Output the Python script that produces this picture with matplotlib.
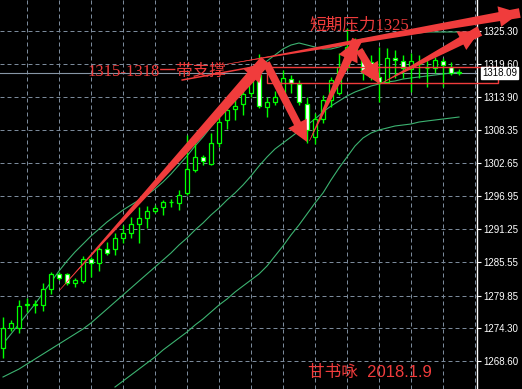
import matplotlib
matplotlib.use('Agg')
import matplotlib.pyplot as plt
from matplotlib.patches import Rectangle

# candle data
opens = [1270.83, 1274.27, 1274.27, 1278.22, 1278.22, 1278.22, 1280.97, 1283.55, 1283.55, 1282.00,
         1282.34, 1286.13, 1285.44, 1287.84, 1287.84, 1289.73, 1290.59, 1292.14, 1293.17, 1294.37,
         1295.06, 1295.92, 1295.75, 1297.46, 1301.42, 1303.65, 1302.44, 1306.05, 1310.01, 1311.90,
         1312.76, 1314.65, 1317.74, 1312.24, 1313.10, 1313.96, 1317.05, 1316.19, 1312.76, 1307.09,
         1310.18, 1313.44, 1314.65, 1319.11, 1321.52, 1321.18, 1319.97, 1317.40, 1316.54, 1320.66,
         1320.14, 1318.77, 1319.97, 1318.94, 1318.94, 1320.14, 1319.11, 1318.26]
highs = [1276.16, 1275.64, 1279.08, 1279.42, 1279.08, 1282.00, 1283.89, 1283.89, 1283.72, 1282.86,
         1286.64, 1286.47, 1288.19, 1289.04, 1290.59, 1291.97, 1293.34, 1295.06, 1295.23, 1295.40,
         1296.26, 1296.43, 1297.98, 1307.43, 1307.60, 1303.99, 1307.77, 1310.52, 1313.10, 1313.79,
         1315.68, 1318.94, 1321.35, 1313.96, 1314.99, 1318.60, 1317.74, 1316.88, 1313.96, 1311.21,
         1314.30, 1317.40, 1321.52, 1325.82, 1324.10, 1322.04, 1321.18, 1322.55, 1322.38, 1322.04,
         1321.18, 1321.52, 1321.18, 1320.83, 1320.83, 1320.66, 1319.97, 1318.77]
lows = [1269.11, 1273.76, 1273.41, 1277.02, 1276.84, 1277.19, 1280.11, 1282.52, 1281.66, 1281.31,
        1282.00, 1283.03, 1284.06, 1286.81, 1286.81, 1288.87, 1289.73, 1288.87, 1291.45, 1294.03,
        1293.68, 1295.06, 1294.54, 1297.13, 1301.08, 1302.27, 1302.27, 1305.37, 1308.46, 1310.01,
        1310.87, 1313.96, 1312.07, 1310.52, 1312.58, 1313.10, 1314.65, 1312.58, 1306.05, 1305.88,
        1309.49, 1312.24, 1314.30, 1318.60, 1320.66, 1316.88, 1316.88, 1313.10, 1316.37, 1317.23,
        1317.23, 1314.82, 1317.23, 1315.68, 1318.08, 1315.68, 1317.74, 1317.74]
closes = [1274.27, 1275.13, 1278.05, 1278.39, 1278.39, 1280.97, 1283.55, 1282.86, 1282.00, 1282.52,
          1286.13, 1285.44, 1287.84, 1287.16, 1289.73, 1290.59, 1292.14, 1293.17, 1294.37, 1294.89,
          1295.92, 1295.95, 1297.13, 1301.59, 1303.65, 1302.96, 1306.05, 1309.66, 1311.73, 1312.41,
          1314.48, 1317.74, 1312.41, 1313.10, 1313.96, 1317.23, 1316.37, 1313.10, 1308.29, 1310.18,
          1313.44, 1316.88, 1319.11, 1322.55, 1323.41, 1318.26, 1317.40, 1316.54, 1320.66, 1320.32,
          1318.94, 1320.14, 1319.63, 1318.90, 1320.32, 1319.46, 1318.08, 1318.09]

# bollinger bands
bb_upper = [1271.52, 1273.24, 1274.96, 1276.67, 1278.39, 1280.28, 1282.17, 1284.06, 1285.78, 1287.33,
            1288.70, 1290.08, 1291.28, 1292.48, 1293.51, 1294.54, 1295.40, 1296.26, 1297.12, 1298.15,
            1299.36, 1300.73, 1302.28, 1303.82, 1305.54, 1307.09, 1308.81, 1310.52, 1312.24, 1313.96,
            1315.51, 1317.22, 1318.94, 1320.15, 1321.18, 1322.21, 1322.89, 1323.24, 1322.89, 1322.55,
            1322.21, 1322.21, 1322.55, 1323.07, 1323.58, 1323.93, 1324.10, 1324.27, 1324.44, 1324.61,
            1324.78, 1324.96, 1324.96, 1325.13, 1325.13, 1325.13, 1325.13, 1325.13]
bb_mid = [1265.85, 1266.54, 1267.22, 1268.08, 1268.94, 1269.80, 1270.66, 1271.52, 1272.38, 1273.24,
          1274.10, 1275.13, 1276.33, 1277.53, 1278.74, 1279.94, 1281.14, 1282.35, 1283.55, 1284.75,
          1285.95, 1287.16, 1288.53, 1289.73, 1291.11, 1292.31, 1293.69, 1294.89, 1296.26, 1297.47,
          1298.84, 1300.39, 1302.10, 1303.65, 1305.03, 1306.06, 1307.09, 1308.12, 1309.15, 1310.18,
          1311.38, 1312.41, 1313.27, 1314.13, 1314.82, 1315.33, 1315.85, 1316.19, 1316.54, 1316.71,
          1317.05, 1317.23, 1317.40, 1317.57, 1317.74, 1317.91, 1318.08, 1318.26]
lower_start = 14
bb_lower = [1264.13, 1265.16, 1266.19, 1267.22, 1268.26, 1269.29, 1270.49, 1271.52, 1272.55, 1273.58,
            1274.78, 1275.82, 1277.02, 1278.22, 1279.25, 1280.45, 1281.49, 1282.52, 1283.55, 1284.92,
            1286.64, 1288.36, 1290.25, 1291.97, 1293.86, 1295.75, 1297.47, 1299.70, 1301.76, 1303.65,
            1305.54, 1306.92, 1307.77, 1308.29, 1308.63, 1308.98, 1309.15, 1309.32, 1309.66, 1309.84,
            1310.01, 1310.18, 1310.35, 1310.52]

price_ticks = [1325.30, 1319.60, 1313.90, 1308.35, 1302.65, 1296.95, 1291.25, 1285.55, 1279.85, 1274.30, 1268.60]
last_price = 1318.09
support_box = (1316.37, 1319.11)

RED = '#f03c3c'
GREEN = '#00ff00'
BAND = '#3cb371'
GRID = '#7b8a9b'

fig = plt.figure(figsize=(5.22, 3.89), dpi=100, facecolor='black')
ax = fig.add_axes([0, 0, 477 / 522, 1])
ax.set_facecolor('black')

n = len(closes)
xs = list(range(n))

# grid
for p in price_ticks:
    ax.axhline(p, color=GRID, lw=0.72, ls=(0, (4, 3)), zorder=0)
for gx in range(3, 60, 4):
    ax.axvline(gx, color=GRID, lw=0.72, ls=(0, (4, 3)), zorder=0)

# current price line
ax.axhline(last_price, color='#8796a6', lw=0.8, zorder=0.5)

# bands
ax.plot(xs, bb_upper, color=BAND, lw=0.8, zorder=1)
ax.plot(xs, bb_mid, color=BAND, lw=0.8, zorder=1)
ax.plot(xs[lower_start:], bb_lower, color=BAND, lw=0.8, zorder=1)

# candles
ax.vlines(xs, lows, highs, color=GREEN, lw=1, zorder=2)
for i in range(n):
    o, c = opens[i], closes[i]
    fill = 'black' if c >= o else 'white'
    ax.bar(i, abs(c - o), bottom=min(o, c), width=0.55, color=fill,
           edgecolor=GREEN, linewidth=0.9, zorder=3)

ax.set_xlim(-0.375, 59.25)
ax.set_ylim(1263.79, 1330.626)

# axis styling
for s in ['left', 'top', 'bottom']:
    ax.spines[s].set_visible(False)
ax.spines['right'].set_color('white')
ax.spines['right'].set_linewidth(1)
ax.set_xticks([])
ax.yaxis.tick_right()
ax.set_yticks(price_ticks)
ax.set_yticklabels(['%.2f' % p for p in price_ticks])
ax.tick_params(axis='y', colors='white', length=3, width=0.8, pad=1.5,
               labelsize=7, labelfontfamily='Liberation Sans')

ax.annotate('%.2f' % last_price, xy=(1, last_price), xycoords=('axes fraction', 'data'),
            xytext=(3.5, 0), textcoords='offset points', ha='left', va='center',
            fontsize=7, family='Liberation Sans', color='black', zorder=6,
            bbox=dict(boxstyle='square,pad=0.08', fc='white', ec='white'),
            annotation_clip=False)

# support box
rect = Rectangle((33.0, support_box[0]), 28.9, support_box[1] - support_box[0],
                 fill=False, ec=RED, lw=1, zorder=4, clip_on=False)
ax.add_patch(rect)


# arrows
def draw(start, end, style):
    a = ax.annotate('', xy=end, xytext=start,
                    arrowprops=dict(arrowstyle=style, color=RED, lw=0,
                                    shrinkA=0, shrinkB=0, mutation_scale=10),
                    annotation_clip=False, zorder=5)
    a.arrow_patch.set_clip_on(False)


def tapered(start, end, width=0.8):
    # wedge thin at start, thick at end, plus arrow head
    draw(end, start, 'wedge,tail_width=%s,shrink_factor=0.5' % width)
    draw(start, end, 'simple,head_length=1.5,head_width=1.5,tail_width=0.05')


def straight(start, end):
    draw(start, end, 'simple,head_length=1.5,head_width=1.5,tail_width=0.55')


tapered((7.1, 1280.80), (32.8, 1320.2), 0.85)
ax.plot([22.4, 31.9], [1316.88, 1319.28], color=RED, lw=1.1, zorder=5)
tapered((28.0, 1319.6), (64.6, 1328.39), 0.7)
straight((32.9, 1319.8), (38.0, 1306.23))
tapered((38.3, 1306.4), (44.25, 1323.75), 0.75)
straight((44.5, 1322.04), (47.1, 1316.19))
tapered((47.1, 1316.19), (59.6, 1325.30), 0.75)

# texts
ax.text(10.6, 1318.26, '1315-1318一带支撑', color=RED, fontsize=12, ha='left', va='center',
        family=['Liberation Serif', 'Noto Sans CJK SC'], zorder=6)
ax.text(38.25, 1326.33, '短期压力1325', color=RED, fontsize=12, ha='left', va='center',
        family=['Liberation Serif', 'Noto Sans CJK SC'], zorder=6)
ax.text(38.1, 1266.54, '甘书咏  2018.1.9', color=RED, fontsize=12, ha='left', va='center',
        family=['Liberation Sans', 'Noto Sans CJK SC'], zorder=6)

fig.savefig('out.png', dpi=100, facecolor='black')
